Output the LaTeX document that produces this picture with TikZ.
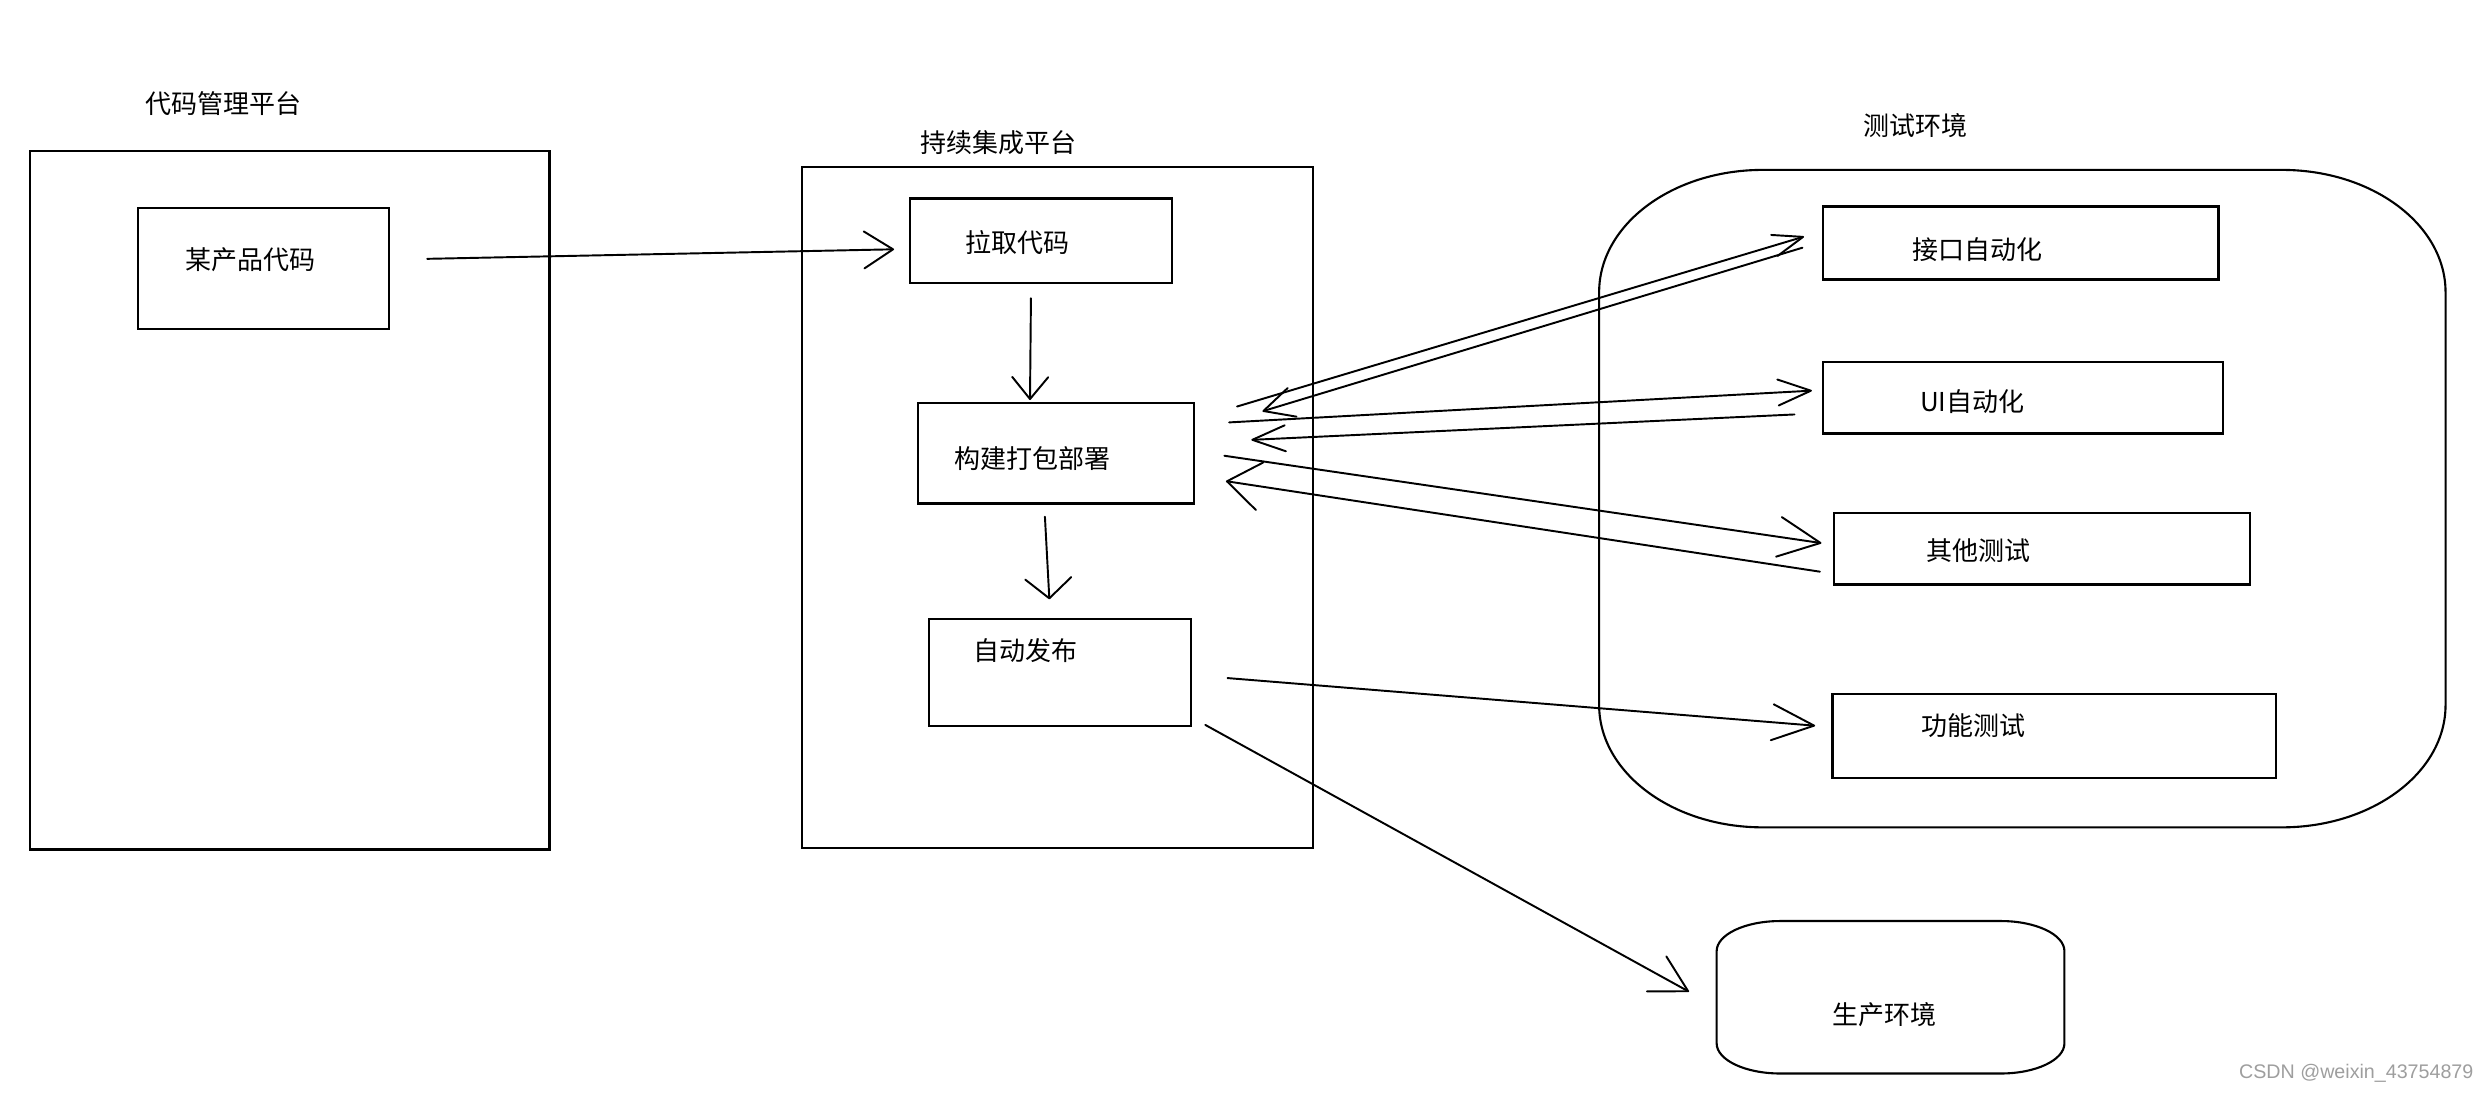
\documentclass[tikz,border=0pt]{standalone}
\usepackage{fontspec}
\setmainfont{Noto Sans CJK SC}
\newfontfamily\wmfont{Liberation Sans}
\usetikzlibrary{arrows.meta,fit}

\begin{document}
\begin{tikzpicture}[x=0.01588cm, y=0.01588cm,
  box/.style={draw, line width=0.65pt, inner sep=0pt},
  ghost/.style={inner sep=0pt},
  outline/.style={line width=0.6pt},
  lbl/.style={font=\fontsize{7.4pt}{9pt}\selectfont, inner sep=0pt},
  flow/.style={line width=0.55pt, line cap=round},
  barb/.style 2 args={-{Straight Barb[length=#1cm, width=#2cm, round]}},
]
\useasboundingbox (0,0) rectangle (1568,688);

% ---- code management platform ----
\node[lbl] (cmpT) at (141,623) {代码管理平台};
\node[box, fit={(19,153) (346,593)}] (cmp) {};
\node[box, fit={(87,481) (245,557)}] (code) {};
\node[lbl] (codeT) at (158,524.3) {某产品代码};

% ---- continuous integration platform ----
\node[lbl] (ciT) at (629,598) {持续集成平台};
\node[box, fit={(505,154) (827,583)}] (ci) {};
\node[box, fit={(573,510) (738,563)}] (pull) {};
\node[lbl] (pullT) at (641,535) {拉取代码};
\node[box, fit={(578,371) (752,434)}] (build) {};
\node[lbl] (buildT) at (650,399) {构建打包部署};
\node[box, fit={(585,231) (750,298)}] (release) {};
\node[lbl] (releaseT) at (646,278) {自动发布};

% ---- test environment ----
\node[lbl] (testT) at (1206,609) {测试环境};
\node[ghost, fit={(1007,167) (1540,581)}] (test) {};
\draw[outline] (1110,581) -- (1437,581)
  arc[start angle=90, end angle=0, x radius=103, y radius=77] -- (1540,244)
  arc[start angle=0, end angle=-90, x radius=103, y radius=77] -- (1110,167)
  arc[start angle=270, end angle=180, x radius=103, y radius=77] -- (1007,504)
  arc[start angle=180, end angle=90, x radius=103, y radius=77] -- cycle;
\node[box, fit={(1148,512) (1397,558)}] (api) {};
\node[lbl] (apiT) at (1245,530.6) {接口自动化};
\node[box, fit={(1148,415) (1400,460)}] (ui) {};
\node[lbl] (uiT) at (1242,435) {UI自动化};
\node[box, fit={(1155,320) (1417,365)}] (other) {};
\node[lbl] (otherT) at (1246,341) {其他测试};
\node[box, fit={(1154,198) (1433,251)}] (func) {};
\node[lbl] (funcT) at (1243,231) {功能测试};

% ---- production environment ----
\node[ghost, fit={(1081,12) (1300,108)}] (prod) {};
\draw[outline] (1121,108) -- (1260,108)
  arc[start angle=90, end angle=0, x radius=40, y radius=19] -- (1300,31)
  arc[start angle=0, end angle=-90, x radius=40, y radius=19] -- (1121,12)
  arc[start angle=270, end angle=180, x radius=40, y radius=19] -- (1081,89)
  arc[start angle=180, end angle=90, x radius=40, y radius=19] -- cycle;
\node[lbl] (prodT) at (1187,49) {生产环境};

% ---- connector end points ----
\coordinate (codeOut)   at (269,525);
\coordinate (pullIn)    at (563,531);
\coordinate (pullOut)   at (649.2,500.2);
\coordinate (buildIn)   at (648.6,436.1);
\coordinate (buildOut)  at (658,362.6);
\coordinate (relIn)     at (660.8,310.6);
\coordinate (bApiOut)   at (779,432);
\coordinate (apiIn)     at (1136,539);
\coordinate (apiOut)    at (1135,532);
\coordinate (bApiIn)    at (795,429);
\coordinate (bUiOut)    at (774,422);
\coordinate (uiIn)      at (1141,442);
\coordinate (uiOut)     at (1130,427);
\coordinate (bUiIn)     at (788,411);
\coordinate (bOthOut)   at (771,401);
\coordinate (othIn)     at (1147,346);
\coordinate (othOut)    at (1146,328);
\coordinate (bOthIn)    at (772,385);
\coordinate (relFunc)   at (773,261);
\coordinate (funcIn)    at (1143,231);
\coordinate (relProd)   at (759,231.5);
\coordinate (prodIn)    at (1063.6,63.5);

% ---- connectors ----
\draw[flow, barb={0.29}{0.37}] (codeOut) -- (pullIn);
\draw[flow, barb={0.22}{0.36}] (pullOut) -- (buildIn);
\draw[flow, barb={0.2}{0.46}] (buildOut) -- (relIn);
\draw[flow, barb={0.3}{0.22}] (bApiOut) -- (apiIn);
\draw[flow, barb={0.3}{0.3}] (apiOut) -- (bApiIn);
\draw[flow, barb={0.33}{0.26}] (bUiOut) -- (uiIn);
\draw[flow, barb={0.33}{0.26}] (uiOut) -- (bUiIn);
\draw[flow, barb={0.42}{0.4}] (bOthOut) -- (othIn);
\draw[flow, barb={0.33}{0.48}] (othOut) -- (bOthIn);
\draw[flow, barb={0.42}{0.36}] (relFunc) -- (funcIn);
\draw[flow, barb={0.36}{0.4}] (relProd) -- (prodIn);

% ---- watermark ----
\node[font=\wmfont\fontsize{5.6pt}{6.5pt}\selectfont, text=black!38, anchor=east, inner sep=0pt] (wm) at (1558,12) {CSDN @weixin\_43754879};
\end{tikzpicture}
\end{document}
